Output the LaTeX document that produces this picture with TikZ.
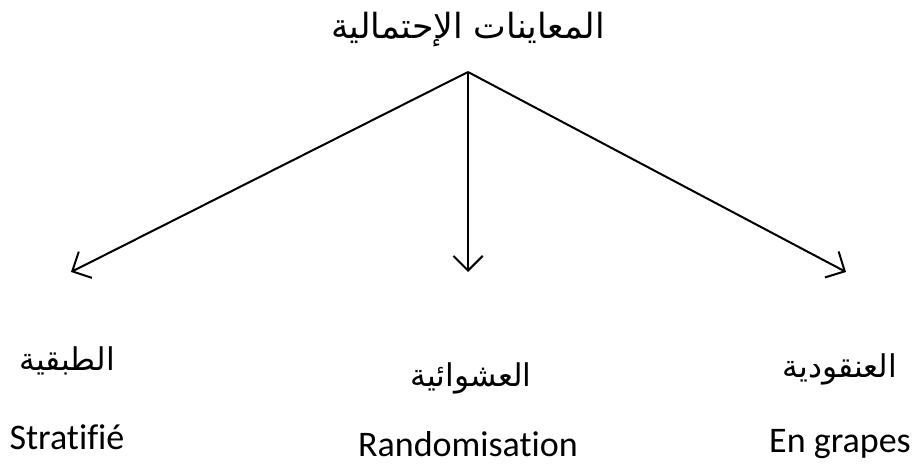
\documentclass[tikz,border=0pt]{standalone}
\usepackage{fontspec}
\setmainfont{Carlito}[Ligatures=NoCommon]
\newfontfamily\arabicfont[Script=Arabic]{DejaVu Sans}
\TeXXeTstate=1
\usepackage{tikz}
\usetikzlibrary{arrows.meta}

\tikzset{
  branch/.style={line width=1.5pt, -{Straight Barb[length=11pt,width=22pt,line width=1.5pt]}},
  artext/.style={inner sep=0.75pt, font=\arabicfont\fontsize{23.5}{28}\selectfont},
  frtext/.style={inner sep=0pt, anchor=base, font=\fontsize{27}{32}\selectfont}
}

\begin{document}
\begin{tikzpicture}[x=0.75pt,y=0.75pt,yscale=-1,xscale=1]
\useasboundingbox (0,0) rectangle (916,466);

% Text Node
\node [artext, font=\arabicfont\fontsize{26}{30}\selectfont] (title) at (468,30) {\beginR المعاينات الإحتمالية\endR};
\coordinate (apex) at (468,72);
\coordinate (tipL) at (71,272);
\coordinate (tipM) at (468,272);
\coordinate (tipR) at (846,272);

%Straight Lines
\draw [branch] (apex) -- (tipL);
\draw [branch] (apex) -- (tipM);
\draw [branch] (apex) -- (tipR);

% Text Node
\node [artext] (strat) at (67,361) {\beginR الطبقية\endR};
% Text Node
\node [artext] (rand) at (471,378) {\beginR العشوائية\endR};
% Text Node
\node [artext] (grap) at (840,369) {\beginR العنقودية\endR};
% Text Node
\node [frtext] (stratfr) at (67,449) {Stratifié};
% Text Node
\node [frtext] (randfr) at (468,456) {Randomisation};
% Text Node
\node [frtext] (grapfr) at (840,452) {En grapes};

\end{tikzpicture}
\end{document}
